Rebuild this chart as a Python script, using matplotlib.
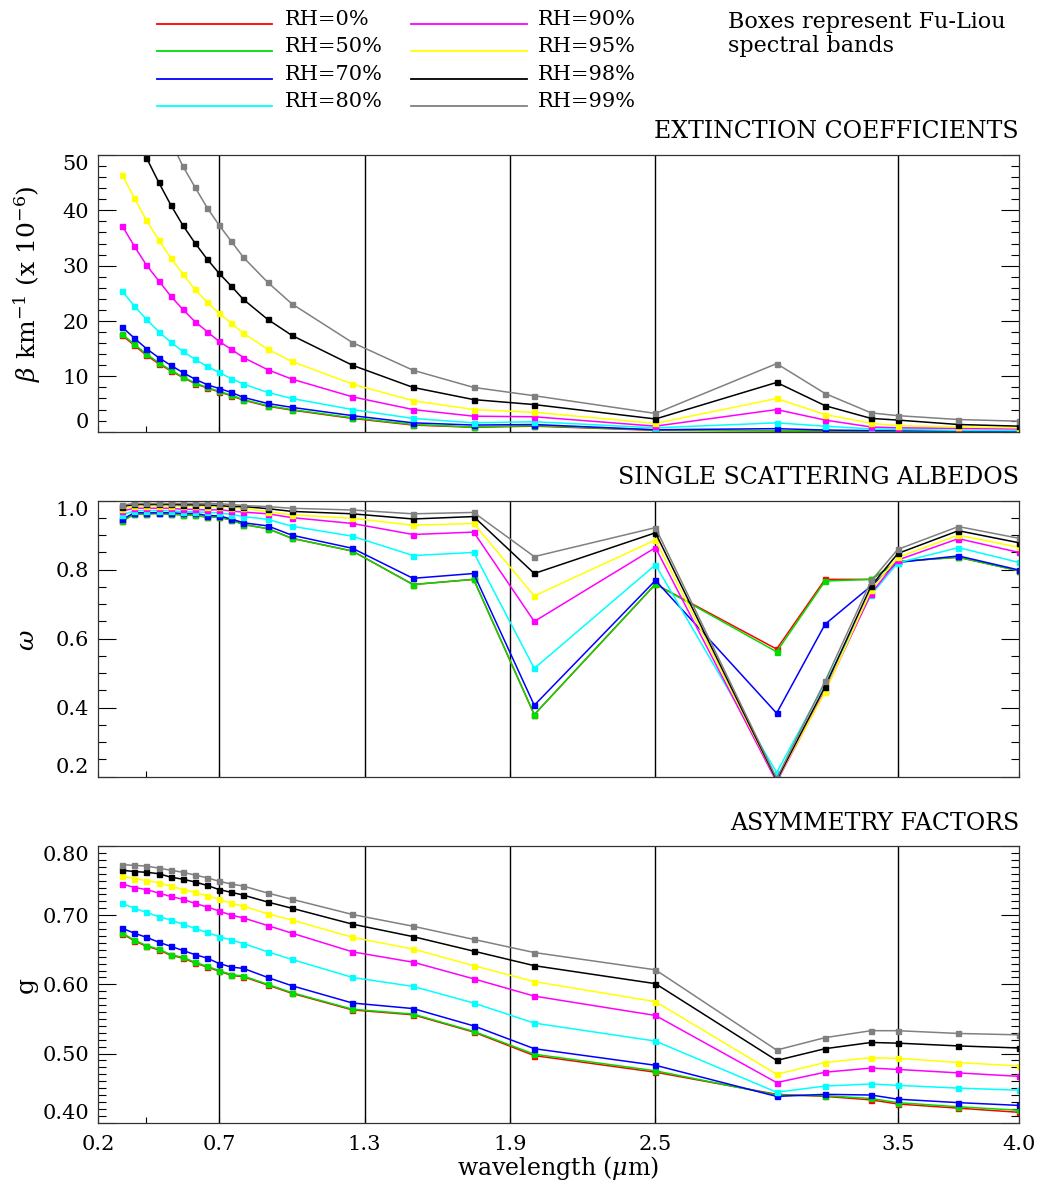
import matplotlib
matplotlib.use("Agg")
import matplotlib.pyplot as plt
from matplotlib.lines import Line2D
from matplotlib.ticker import FixedLocator, MultipleLocator

plt.rcParams.update({"font.family": "DejaVu Serif",
                     "mathtext.fontset": "dejavuserif"})

# OPAC wavelengths (um)
wavelength = [0.3, 0.35, 0.4, 0.45, 0.5, 0.55, 0.6, 0.65, 0.7, 0.75, 0.8, 0.9,
              1.0, 1.25, 1.5, 1.75, 2.0, 2.5, 3.0, 3.2, 3.39, 3.5, 3.75, 4.0]
rh_labels = ["RH=0%", "RH=50%", "RH=70%", "RH=80%",
             "RH=90%", "RH=95%", "RH=98%", "RH=99%"]
colors = ["#ff0000", "#00dd00", "#0000ff", "#00ffff",
          "#ff00ff", "#ffff00", "#000000", "#808080"]
band_edges = [0.7, 1.3, 1.9, 2.5, 3.5]
xticks = [0.2, 0.7, 1.3, 1.9, 2.5, 3.5, 4.0]

ext_rh0 = [17.4, 15.6, 13.8, 12.3, 11.0, 9.8, 8.7, 7.9, 7.2, 6.5, 5.7, 4.6,
           3.9, 2.4, 1.2, 0.8, 1.0, 0.25, 0.15, 0.1, 0.08, 0.08, 0.08, 0.08]
ext_rh50 = [17.6, 15.8, 14.0, 12.5, 11.1, 9.9, 8.8, 8.0, 7.3, 6.6, 5.8, 4.7,
            4.0, 2.5, 1.3, 0.85, 1.1, 0.3, 0.2, 0.15, 0.1, 0.1, 0.1, 0.1]
ext_rh70 = [18.9, 16.9, 15.0, 13.4, 12.0, 10.7, 9.5, 8.5, 7.8, 7.1, 6.2, 5.1,
            4.4, 2.9, 1.6, 1.2, 1.3, 0.35, 0.55, 0.3, 0.2, 0.2, 0.15, 0.1]
ext_rh80 = [25.4, 22.7, 20.3, 18.1, 16.2, 14.5, 13.1, 11.8, 10.7, 9.6, 8.6, 7.1,
            6.0, 4.0, 2.4, 1.6, 1.8, 0.7, 1.6, 1.0, 0.5, 0.4, 0.25, 0.2]
ext_rh90 = [37.2, 33.5, 30.1, 27.3, 24.5, 22.1, 19.9, 18.1, 16.3, 14.9, 13.4, 11.2,
            9.5, 6.3, 4.0, 2.8, 2.7, 1.0, 4.0, 2.1, 0.85, 0.7, 0.6, 0.5]
ext_rh95 = [46.4, 42.2, 38.2, 34.7, 31.4, 28.5, 25.7, 23.4, 21.4, 19.6, 17.8, 14.9,
            12.7, 8.6, 5.6, 4.0, 3.5, 1.5, 6.0, 3.1, 1.5, 1.1, 0.85, 0.7]
ext_rh98 = [61.0, 55.0, 49.5, 45.1, 41.0, 37.3, 34.1, 31.2, 28.6, 26.3, 23.9, 20.3,
            17.4, 12.0, 8.0, 5.8, 4.9, 2.3, 8.9, 4.7, 2.4, 2.1, 1.3, 1.0]
ext_rh99 = [76.0, 69.0, 63.0, 57.5, 52.5, 48.0, 44.2, 40.5, 37.3, 34.4, 31.5, 27.0,
            23.1, 16.1, 11.1, 8.0, 6.5, 3.3, 12.3, 6.9, 3.4, 2.9, 2.2, 1.9]

ssa_rh0 = [0.941, 0.961, 0.962, 0.963, 0.961, 0.959, 0.958, 0.952, 0.952, 0.944, 0.931, 0.919,
           0.891, 0.854, 0.757, 0.772, 0.380, 0.758, 0.570, 0.772, 0.772, 0.824, 0.836, 0.797]
ssa_rh50 = [0.941, 0.961, 0.962, 0.963, 0.961, 0.959, 0.958, 0.952, 0.952, 0.944, 0.931, 0.919,
            0.891, 0.854, 0.757, 0.772, 0.380, 0.758, 0.562, 0.767, 0.772, 0.824, 0.836, 0.797]
ssa_rh70 = [0.946, 0.965, 0.965, 0.965, 0.965, 0.963, 0.963, 0.957, 0.956, 0.947, 0.936, 0.927,
            0.900, 0.862, 0.775, 0.789, 0.407, 0.769, 0.384, 0.642, 0.753, 0.821, 0.840, 0.799]
ssa_rh80 = [0.959, 0.971, 0.971, 0.971, 0.971, 0.968, 0.968, 0.966, 0.965, 0.960, 0.954, 0.946,
            0.926, 0.897, 0.841, 0.850, 0.514, 0.814, 0.212, 0.471, 0.727, 0.820, 0.864, 0.821]
ssa_rh90 = [0.970, 0.978, 0.978, 0.978, 0.978, 0.975, 0.975, 0.973, 0.974, 0.970, 0.967, 0.962,
            0.951, 0.934, 0.902, 0.909, 0.650, 0.864, 0.185, 0.449, 0.731, 0.828, 0.890, 0.850]
ssa_rh95 = [0.975, 0.985, 0.985, 0.985, 0.985, 0.984, 0.984, 0.983, 0.983, 0.980, 0.978, 0.968,
            0.959, 0.949, 0.929, 0.934, 0.724, 0.886, 0.190, 0.445, 0.741, 0.836, 0.900, 0.865]
ssa_rh98 = [0.983, 0.989, 0.989, 0.989, 0.989, 0.988, 0.988, 0.987, 0.986, 0.983, 0.983, 0.977,
            0.969, 0.962, 0.947, 0.954, 0.789, 0.907, 0.190, 0.461, 0.753, 0.847, 0.913, 0.878]
ssa_rh99 = [0.987, 0.992, 0.992, 0.992, 0.992, 0.992, 0.992, 0.992, 0.991, 0.989, 0.986, 0.983,
            0.978, 0.973, 0.962, 0.966, 0.838, 0.922, 0.195, 0.477, 0.768, 0.859, 0.925, 0.891]

asy_rh0 = [0.673, 0.663, 0.655, 0.650, 0.642, 0.638, 0.631, 0.625, 0.619, 0.613, 0.611, 0.599,
           0.587, 0.563, 0.556, 0.531, 0.497, 0.473, 0.441, 0.438, 0.433, 0.427, 0.421, 0.415]
asy_rh50 = [0.674, 0.664, 0.656, 0.651, 0.643, 0.639, 0.632, 0.626, 0.620, 0.614, 0.612, 0.600,
            0.588, 0.564, 0.557, 0.532, 0.499, 0.475, 0.440, 0.439, 0.435, 0.429, 0.423, 0.418]
asy_rh70 = [0.681, 0.674, 0.668, 0.661, 0.655, 0.649, 0.643, 0.638, 0.630, 0.625, 0.623, 0.610,
            0.598, 0.573, 0.565, 0.540, 0.507, 0.483, 0.438, 0.441, 0.440, 0.434, 0.429, 0.425]
asy_rh80 = [0.717, 0.710, 0.704, 0.698, 0.693, 0.687, 0.681, 0.675, 0.669, 0.664, 0.659, 0.647,
            0.636, 0.610, 0.597, 0.573, 0.544, 0.518, 0.444, 0.453, 0.456, 0.454, 0.450, 0.447]
asy_rh90 = [0.745, 0.740, 0.737, 0.732, 0.727, 0.723, 0.717, 0.712, 0.706, 0.700, 0.696, 0.685,
            0.674, 0.647, 0.632, 0.608, 0.583, 0.555, 0.458, 0.473, 0.479, 0.477, 0.472, 0.467]
asy_rh95 = [0.756, 0.753, 0.750, 0.747, 0.742, 0.737, 0.733, 0.728, 0.723, 0.717, 0.713, 0.702,
            0.693, 0.668, 0.651, 0.627, 0.604, 0.575, 0.470, 0.487, 0.494, 0.493, 0.487, 0.482]
asy_rh98 = [0.765, 0.763, 0.762, 0.760, 0.755, 0.752, 0.748, 0.743, 0.737, 0.733, 0.729, 0.719,
            0.710, 0.687, 0.669, 0.648, 0.627, 0.601, 0.490, 0.507, 0.516, 0.515, 0.511, 0.508]
asy_rh99 = [0.773, 0.772, 0.771, 0.768, 0.765, 0.762, 0.758, 0.754, 0.749, 0.745, 0.742, 0.732,
            0.723, 0.701, 0.684, 0.665, 0.646, 0.621, 0.505, 0.523, 0.533, 0.533, 0.529, 0.527]

extinction = [ext_rh0, ext_rh50, ext_rh70, ext_rh80, ext_rh90, ext_rh95, ext_rh98, ext_rh99]
albedo = [ssa_rh0, ssa_rh50, ssa_rh70, ssa_rh80, ssa_rh90, ssa_rh95, ssa_rh98, ssa_rh99]
asymmetry = [asy_rh0, asy_rh50, asy_rh70, asy_rh80, asy_rh90, asy_rh95, asy_rh98, asy_rh99]

W, H = 1047, 1186
fig = plt.figure(figsize=(W / 100, H / 100), dpi=100)


def px(x, y):
    return x / W, 1 - y / H


def make_panel(top, bottom, series, ylim, major, minor, fmt, title, title_y, last=False):
    ax = fig.add_axes([98 / W, 1 - bottom / H, 921 / W, (bottom - top) / H])
    for xv in band_edges:
        ax.axvline(xv, color="black", lw=1.0, zorder=1)
    for vals, c in zip(series, colors):
        ax.plot(wavelength, vals, color=c, lw=1.1, marker="s", ms=3.6,
                mec=c, mfc=c, zorder=2)
    ax.set_xlim(0.2, 4.0)
    ax.set_ylim(*ylim)
    ax.yaxis.set_major_locator(MultipleLocator(major))
    ax.yaxis.set_minor_locator(MultipleLocator(minor))
    ax.yaxis.set_major_formatter(fmt)
    ax.xaxis.set_major_locator(FixedLocator(xticks))
    ax.xaxis.set_minor_locator(FixedLocator([0.4]))
    ax.tick_params(axis="y", which="both", direction="in", left=True, right=True,
                   labelsize=15, pad=6.5, width=0.8)
    ax.tick_params(axis="y", which="major", length=13)
    ax.tick_params(axis="y", which="minor", length=5.8)
    ax.tick_params(axis="x", which="both", direction="in", length=4.3,
                   labelsize=15, pad=8.5, width=0.8)
    if last:
        ax.set_xticklabels(["%.1f" % t for t in xticks])
    else:
        ax.set_xticklabels([])
    for s in ax.spines.values():
        s.set_linewidth(0.9)
        s.set_color("#333333")
    ticks = ax.yaxis.get_major_ticks()
    locs = ax.yaxis.get_majorticklocs()
    for t, loc in zip(ticks, locs):
        if abs(loc - ylim[0]) < 1e-6:
            t.label1.set_va("bottom")
        elif abs(loc - ylim[1]) < 1e-6:
            t.label1.set_va("top")
    fig.text(*px(1019, title_y), title, ha="right", va="baseline", fontsize=17)
    return ax


ax1 = make_panel(155, 431.7, extinction, (0, 50), 10, 2, "{x:.0f}",
                 "EXTINCTION COEFFICIENTS", 138.5)
ax2 = make_panel(500.7, 776.7, albedo, (0.2, 1.0), 0.2, 0.05, "{x:.1f}",
                 "SINGLE SCATTERING ALBEDOS", 484)
ax3 = make_panel(846, 1122.7, asymmetry, (0.40, 0.80), 0.1, 0.01, "{x:.2f}",
                 "ASYMMETRY FACTORS", 829.5, last=True)

# axis labels
fig.text(*px(27, 284), r"$\beta$ km$^{-1}$ (x 10$^{-6}$)", rotation=90,
         ha="center", va="center", fontsize=18)
fig.text(*px(28, 640), r"$\omega$", rotation=90, ha="center", va="center", fontsize=18)
fig.text(*px(26, 985), r"g", rotation=90, ha="center", va="center", fontsize=18)
fig.text(*px(558, 1168), r"wavelength ($\mu$m)", ha="center", va="center", fontsize=17)

# legend
row_y = [25, 52, 79.5, 107]
for i, (lab, c) in enumerate(zip(rh_labels, colors)):
    col, row = divmod(i, 4)
    x0, x1, xt = (157, 272, 285) if col == 0 else (411, 527, 538)
    y = row_y[row]
    fig.add_artist(Line2D([x0 / W, x1 / W], [1 - (y - 1) / H] * 2, color=c, lw=1.3))
    fig.text(*px(xt, y), lab, ha="left", va="baseline", fontsize=15)

fig.text(*px(728, 28.3), "Boxes represent Fu-Liou", ha="left", va="baseline", fontsize=16)
fig.text(*px(728, 52), "spectral bands", ha="left", va="baseline", fontsize=16)

fig.savefig("out.png", dpi=100)
